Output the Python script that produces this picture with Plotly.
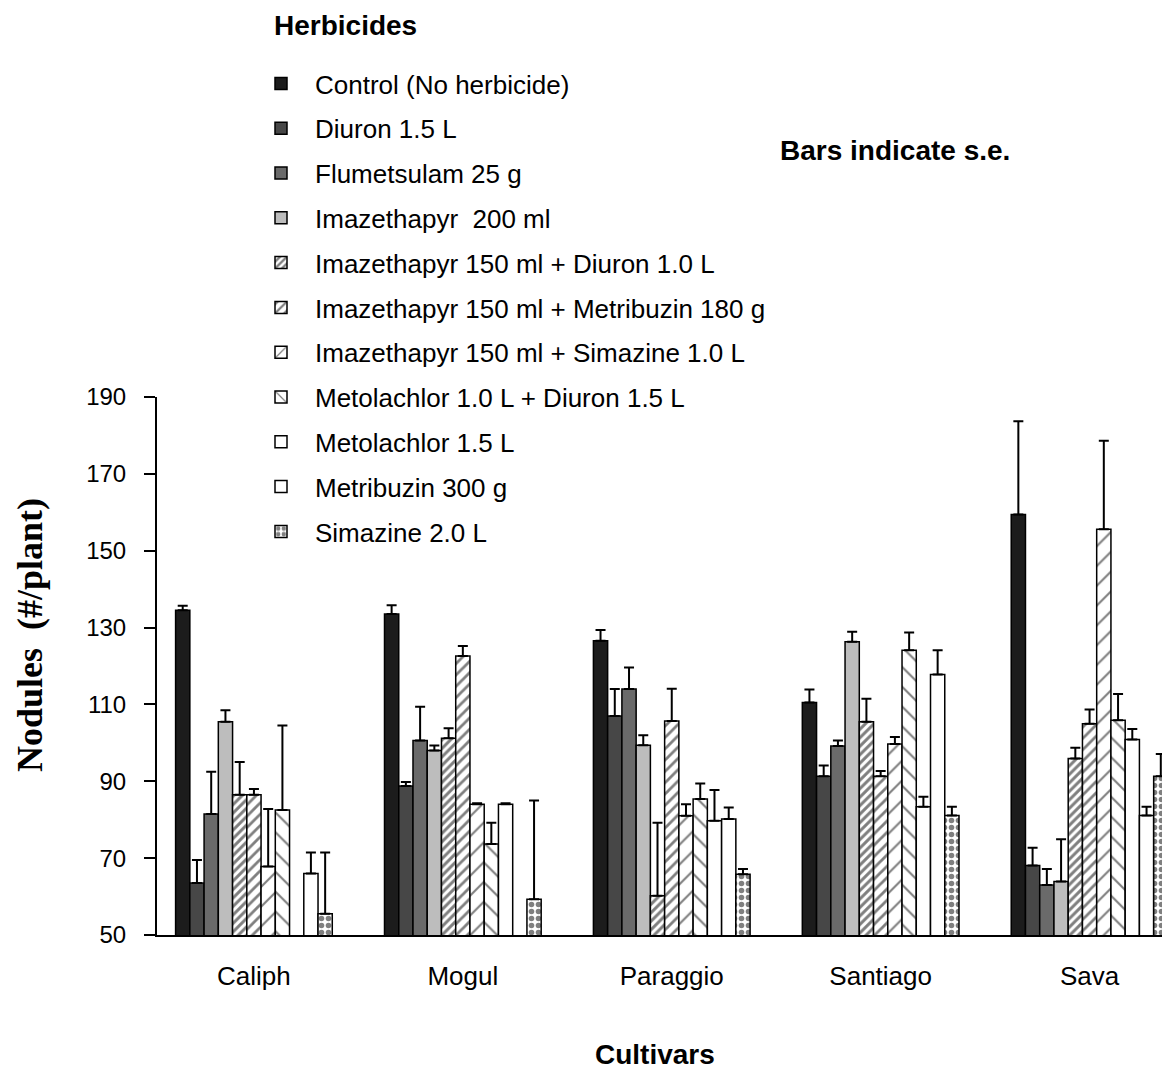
import plotly.graph_objects as go
# ---------------------------------------------------------------------------

# data
cultivars = ["Caliph", "Mogul", "Paraggio", "Santiago", "Sava"]

herbicides = [
  "Control (No herbicide)",
  "Diuron 1.5 L",
  "Flumetsulam 25 g",
  "Imazethapyr  200 ml",
  "Imazethapyr 150 ml + Diuron 1.0 L",
  "Imazethapyr 150 ml + Metribuzin 180 g",
  "Imazethapyr 150 ml + Simazine 1.0 L",
  "Metolachlor 1.0 L + Diuron 1.5 L",
  "Metolachlor 1.5 L",
  "Metribuzin 300 g",
  "Simazine 2.0 L",
]

# mean nodules per plant, one list per cultivar (None = bar not drawn)
caliph   = [134.5, 63.5, 81.5, 105.5, 86.5, 86.5, 67.8, 82.5, None, 66.0, 55.5]
mogul    = [133.5, 88.8, 100.6, 98.0, 101.2, 122.6, 84.0, 73.7, 84.0, None, 59.3]
paraggio = [126.6, 107.0, 114.0, 99.4, 60.2, 105.7, 81.0, 85.4, 79.7, 80.2, 65.8]
santiago = [110.5, 91.3, 99.2, 126.3, 105.5, 91.3, 99.7, 124.1, 83.4, 117.8, 81.1]
sava     = [159.4, 68.1, 63.0, 63.9, 95.9, 105.0, 155.6, 105.9, 100.9, 81.1, 91.3]

# standard errors
caliph_se   = [1.2, 6.0, 11.0, 3.0, 8.5, 1.5, 15.0, 22.0, 0, 5.5, 16.0]
mogul_se    = [2.3, 1.0, 8.8, 1.3, 2.6, 2.6, 0.3, 5.5, 0.3, 0, 25.7]
paraggio_se = [2.8, 7.0, 5.6, 2.6, 19.0, 8.4, 3.0, 4.0, 8.0, 3.0, 1.4]
santiago_se = [3.4, 2.8, 1.4, 2.6, 6.0, 1.4, 1.8, 4.6, 2.6, 6.3, 2.3]
sava_se     = [24.3, 4.6, 4.2, 11.0, 2.8, 3.7, 23.0, 6.8, 2.7, 2.3, 5.8]

means = [caliph, mogul, paraggio, santiago, sava]
errors = [caliph_se, mogul_se, paraggio_se, santiago_se, sava_se]
# ---------------------------------------------------------------------------

# fill style per herbicide: (colour, pattern shape, pattern size, solidity)
styles = [
  ("#1c1c1c", "", 8, 0.3),
  ("#474747", "", 8, 0.3),
  ("#6a6a6a", "", 8, 0.3),
  ("#bdbdbd", "", 8, 0.3),
  ("white", "/", 6, 0.5),
  ("white", "/", 8, 0.35),
  ("white", "/", 14, 0.15),
  ("white", "\\", 14, 0.15),
  ("white", "", 8, 0.3),
  ("white", "", 8, 0.3),
  ("white", ".", 7, 0.5),
]

# page geometry (pixels); the page body adds an 8 px margin
OFF = 8
W, H = 1170 - OFF, 1069 - OFF
L, R, T, B = 157 - OFF, 0, 397 - OFF, 1069 - 935


def px(x, y):
  # page pixel position -> paper coordinates
  x, y = x - OFF, y - OFF
  return (x - L) / (W - L - R), (H - B - y) / (H - T - B)


sans = "Liberation Sans, Arial, sans-serif"

fig = go.Figure()

# one bar trace per herbicide
for i, name in enumerate(herbicides):
  color, shape, size, solid = styles[i]
  fig.add_trace(go.Bar(
    x=cultivars,
    y=[m[i] for m in means],
    name=name,
    legendgroup=name,
    marker=dict(
      color=color,
      line=dict(color="black", width=1.5),
      pattern=dict(shape=shape, fgcolor="black", bgcolor=color, size=size, solidity=solid),
    ),
    error_y=dict(
      type="data", symmetric=False,
      array=[e[i] for e in errors],
      arrayminus=[0] * len(cultivars),
      color="black", thickness=2, width=5,
    ),
  ))

# texts placed by pixel
texts = []
x0, y0 = px(272, 25)
texts.append(dict(x=x0, y=y0, text="Herbicides", xanchor="left", yanchor="middle",
                  font=dict(family=sans, size=28, color="black", weight="bold")))
x0, y0 = px(778, 150)
texts.append(dict(x=x0, y=y0, text="Bars indicate s.e.", xanchor="left", yanchor="middle",
                  font=dict(family=sans, size=28, color="black", weight="bold")))
x0, y0 = px(655, 1054)
texts.append(dict(x=x0, y=y0, text="Cultivars", xanchor="center", yanchor="middle",
                  font=dict(family=sans, size=28, color="black", weight="bold")))
x0, y0 = px(30, 635)
texts.append(dict(x=x0, y=y0, text="Nodules  (#/plant)", textangle=-90,
                  xanchor="center", yanchor="middle",
                  font=dict(family="Liberation Serif, Times New Roman, serif", size=36,
                            color="black", weight="bold")))
for t in texts:
  t.update(xref="paper", yref="paper", showarrow=False)

# custom layout
fig.update_layout(
  width=W, height=H,
  margin=dict(l=L, r=R, t=T, b=B, autoexpand=False),
  paper_bgcolor="white", plot_bgcolor="white",
  barmode="group", bargap=0.25, bargroupgap=0,
  font=dict(family=sans, size=22, color="black"),
  showlegend=True,
  legend=dict(
    xref="container", yref="container",
    x=239 / W, y=1 - 52 / H, xanchor="left", yanchor="top",
    font=dict(family=sans, size=26, color="black"),
    bgcolor="rgba(0,0,0,0)", tracegroupgap=8, traceorder="grouped",
    itemwidth=58,
  ),
  annotations=texts,
  xaxis=dict(
    range=[-0.464, 4.385], showline=True, linecolor="black", linewidth=2,
    ticks="", showgrid=False, zeroline=False, tickangle=0,
    tickfont=dict(family=sans, size=26), ticklabelstandoff=17,
  ),
  yaxis=dict(
    range=[50, 190], tickvals=list(range(50, 191, 20)),
    showline=True, linecolor="black", linewidth=2,
    ticks="outside", ticklen=11, tickwidth=1.5, tickcolor="black",
    showgrid=False, zeroline=False,
    tickfont=dict(family=sans, size=24), ticklabelstandoff=13,
  ),
)

fig.write_html("out.html")
